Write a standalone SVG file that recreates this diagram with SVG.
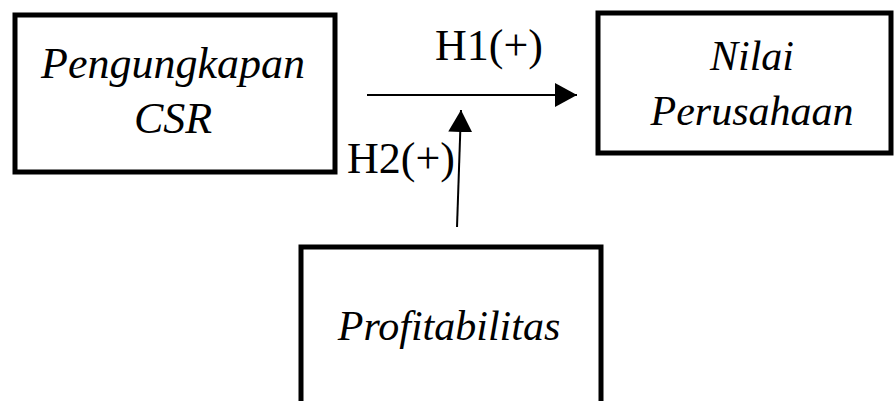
<svg xmlns="http://www.w3.org/2000/svg" width="895" height="401" viewBox="0 0 895 401">
<style>
.box{fill:#fff;stroke:#000;stroke-width:5}
.nt{font-family:"Liberation Serif",serif;font-style:italic;font-size:44px;fill:#000;text-anchor:middle}
.sm{font-size:42px}
.lb{font-family:"Liberation Serif",serif;font-size:44px;fill:#000}
.ln{stroke:#000;stroke-width:2;fill:none}
</style>
<defs>
<marker id="ah" markerUnits="userSpaceOnUse" markerWidth="24" markerHeight="24" refX="22" refY="12" orient="auto">
<path d="M0,0 L22,12 L0,24 Z" fill="#000"/>
</marker>
</defs>
<rect width="895" height="401" fill="#fff"/>
<g id="connectors">
<line class="ln" x1="367" y1="95" x2="577" y2="95" marker-end="url(#ah)"/>
<line class="ln" x1="457" y1="227" x2="461" y2="110" marker-end="url(#ah)"/>
</g>
<g id="csr">
<rect class="box" x="15" y="15" width="320" height="157"/>
<text class="nt" x="173" y="78">Pengungkapan</text>
<text class="nt" x="173" y="133">CSR</text>
</g>
<g id="nilai">
<rect class="box" x="598" y="13" width="293" height="140"/>
<text class="nt sm" x="752" y="70">Nilai</text>
<text class="nt sm" x="752" y="125">Perusahaan</text>
</g>
<g id="profit">
<rect class="box" x="301" y="247" width="300" height="170"/>
<text class="nt sm" x="449" y="340">Profitabilitas</text>
</g>
<g id="labels">
<text class="lb" x="435" y="60">H1(+)</text>
<text class="lb" x="347" y="173">H2(+)</text>
</g>
</svg>
